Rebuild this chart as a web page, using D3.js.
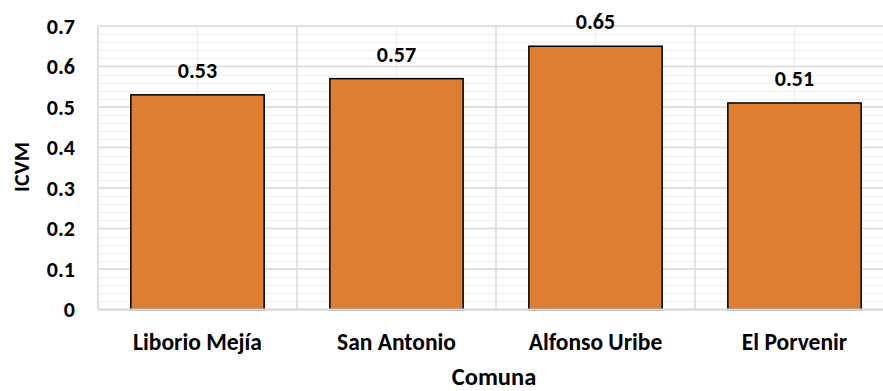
<!DOCTYPE html>
<html>
<head>
<meta charset="utf-8">
<script src="https://cdn.jsdelivr.net/npm/d3@7"></script>
<style>
html,body{margin:0;padding:0;background:#fff;}
svg{display:block;}
text{font-family:Carlito,Lato,"Open Sans",sans-serif;font-weight:bold;fill:#000;}
</style>
</head>
<body>
<svg id="chart" width="883" height="391"></svg>
<script>
const categories = ["Liborio Mejía", "San Antonio", "Alfonso Uribe", "El Porvenir"];
const values = [0.53, 0.57, 0.65, 0.51];
const yTicks = [0, 0.1, 0.2, 0.3, 0.4, 0.5, 0.6, 0.7];
const yMinorTicks = d3.range(0, 0.7001, 0.02);
const xTitle = "Comuna";
const yTitle = "ICVM";

const svg = d3.select("#chart");
const pLeft = 98, pRight = 894, pTop = 26, pBottom = 309.5;

const x = d3.scaleBand().domain(categories).range([pLeft, pRight]).paddingInner(0.33).paddingOuter(0.165);
const xCat = d3.scaleBand().domain(categories).range([pLeft, pRight]).padding(0);
const y = d3.scaleLinear().domain([0, 0.7]).range([pBottom, pTop]);

const g = svg.append("g");
g.selectAll(".hmin").data(yMinorTicks).enter().append("line")
  .attr("x1", pLeft).attr("x2", pRight)
  .attr("y1", d => Math.round(y(d)) + 0.5).attr("y2", d => Math.round(y(d)) + 0.5)
  .attr("stroke", "#efefef").attr("stroke-width", 1.2);
g.selectAll(".vmin").data(categories).enter().append("line")
  .attr("x1", d => xCat(d) + xCat.bandwidth() / 2).attr("x2", d => xCat(d) + xCat.bandwidth() / 2)
  .attr("y1", pTop).attr("y2", pBottom)
  .attr("stroke", "#efefef").attr("stroke-width", 1.5);
g.selectAll(".hmaj").data(yTicks).enter().append("line")
  .attr("x1", pLeft).attr("x2", pRight)
  .attr("y1", d => y(d)).attr("y2", d => y(d))
  .attr("stroke", "#d9d9d9").attr("stroke-width", 1.5);
g.selectAll(".vmaj").data(categories.slice(1)).enter().append("line")
  .attr("x1", d => xCat(d)).attr("x2", d => xCat(d))
  .attr("y1", pTop).attr("y2", pBottom)
  .attr("stroke", "#d9d9d9").attr("stroke-width", 1.5);
g.append("line").attr("x1", pLeft).attr("x2", pLeft).attr("y1", pTop).attr("y2", pBottom)
  .attr("stroke", "#d9d9d9").attr("stroke-width", 1.5);

svg.selectAll(".bar").data(values).enter().append("rect")
  .attr("x", (d, i) => x(categories[i]))
  .attr("width", x.bandwidth())
  .attr("y", d => y(d))
  .attr("height", d => y(0) - y(d))
  .attr("fill", "#dd7e33")
  .attr("stroke", "#000").attr("stroke-width", 1.5);

svg.append("line").attr("x1", pLeft).attr("x2", pRight).attr("y1", pBottom).attr("y2", pBottom)
  .attr("stroke", "#d9d9d9").attr("stroke-width", 2);

svg.selectAll(".lbl").data(values).enter().append("text")
  .attr("x", (d, i) => x(categories[i]) + x.bandwidth() / 2)
  .attr("y", d => y(d) - 17)
  .attr("text-anchor", "middle").attr("font-size", 22)
  .text(d => d3.format(".2f")(d));

svg.selectAll(".yt").data(yTicks).enter().append("text")
  .attr("x", 75).attr("y", d => y(d)).attr("dy", "0.36em")
  .attr("text-anchor", "end").attr("font-size", 22)
  .text(d => d3.format("~g")(d));

svg.selectAll(".xt").data(categories).enter().append("text")
  .attr("x", d => xCat(d) + xCat.bandwidth() / 2).attr("y", 350)
  .attr("text-anchor", "middle").attr("font-size", 23.5)
  .text(d => d);

svg.append("text").attr("x", 494).attr("y", 385).attr("text-anchor", "middle")
  .attr("font-size", 24.5).text(xTitle);
svg.append("text").attr("transform", "translate(29,167) rotate(-90)")
  .attr("text-anchor", "middle").attr("font-size", 22).text(yTitle);
</script>
</body>
</html>
